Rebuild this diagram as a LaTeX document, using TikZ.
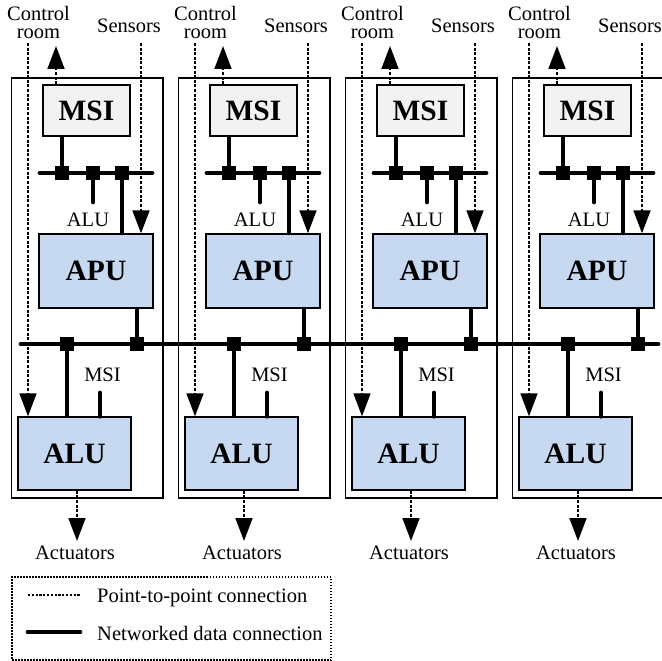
\documentclass[tikz,border=0pt]{standalone}
\usepackage{fontspec}
\setmainfont{Liberation Serif}
\usetikzlibrary{arrows.meta}
\definecolor{boxblue}{HTML}{C6D9F1}
\definecolor{boxgray}{HTML}{F2F2F2}
\tikzset{
  lbl/.style={font=\fontsize{20.5}{18.5}\selectfont, inner sep=0pt, align=center},
  big/.style={font=\fontsize{29.5}{30}\selectfont\bfseries},
  unit/.style={draw, line width=1.4pt, inner sep=0pt, big},
  ptp/.style={line width=1.7pt, dash pattern=on 3pt off 1.6pt},
  ptparrow/.style={ptp, -{Triangle[length=23pt,width=17pt]}},
  net/.style={line width=4.8pt},
  netcap/.style={net, line cap=round},
  jn/.style={fill=black, inner sep=0pt, minimum size=14pt},
  outerbox/.style={draw, line width=1.3pt, inner sep=0pt, minimum width=151.5pt, minimum height=420pt},
}
\begin{document}
\begin{tikzpicture}[x=1pt,y=-1pt]
\useasboundingbox (0,0) rectangle (662,661);
\foreach \i in {1,...,4}{
  \pgfmathsetmacro{\o}{(\i-1)*167}
  \begin{scope}[xshift=\o pt]
    \node[outerbox] (col\i) at (87.25,288) {};
    \node[unit, fill=boxgray, minimum width=87pt, minimum height=51pt] (msi\i) at (86.5,110.5) {MSI};
    \node[unit, fill=boxblue, minimum width=114pt, minimum height=74pt] (apu\i) at (96,271) {APU};
    \node[unit, fill=boxblue, minimum width=113pt, minimum height=73pt] (alu\i) at (74.5,453.5) {ALU};
    \node[lbl] (cr\i) at (38.5,22.3) {Control\\room};
    \node[lbl, anchor=base] (sens\i) at (129,33) {Sensors};
    \node[lbl, anchor=base] (alul\i) at (88,226) {ALU};
    \node[lbl, anchor=base] (msil\i) at (102.5,381.5) {MSI};
    \node[lbl, anchor=base] (act\i) at (75,559) {Actuators};
    \coordinate (ubl\i) at (40,173);
    \coordinate (ubr\i) at (152,173);
    \coordinate (alustub\i) at (93,202);
    \coordinate (msistub\i) at (100,393);
    \coordinate (crtop\i) at (28,43);
    \coordinate (sstop\i) at (141,43);
    \coordinate (crtip\i) at (56,46);
    \coordinate (acttip\i) at (77,541);
    \draw[netcap] (ubl\i) -- (ubr\i);
    \node[jn] (ja\i) at (62,173) {};
    \node[jn] (jb\i) at (93,173) {};
    \node[jn] (jc\i) at (122,173) {};
    \node[jn] (jd\i) at (67,344) {};
    \node[jn] (je\i) at (137,344) {};
    \draw[net] (ja\i |- msi\i.south) -- (ja\i.center);
    \draw[netcap] (jb\i.center) -- (alustub\i);
    \draw[net] (jc\i.center) -- (jc\i |- apu\i.north);
    \draw[net] (je\i |- apu\i.south) -- (je\i.center);
    \draw[net] (jd\i.center) -- (jd\i |- alu\i.north);
    \draw[netcap] (msistub\i) -- (msistub\i |- alu\i.north);
    \draw[ptparrow] (crtop\i) -- (crtop\i |- alu\i.north);
    \draw[ptparrow] (sstop\i) -- (sstop\i |- apu\i.north);
    \draw[ptparrow] (crtip\i |- msi\i.north) -- (crtip\i);
    \draw[ptparrow] (acttip\i |- alu\i.south) -- (acttip\i);
  \end{scope}
}
\coordinate (lbL) at (21,344);
\coordinate (lbR) at (658,344);
\draw[netcap] (lbL) -- (lbR);
% legend
\node[draw, dash pattern=on 1.5pt off 1.5pt, line width=1.2pt, minimum width=319pt, minimum height=83pt, inner sep=0pt] (legend) at (171.5,618.5) {};
\coordinate (l1a) at (28,595);
\coordinate (l1b) at (80,595);
\draw[ptp, line width=1.3pt, dash pattern=on 2.2pt off 1.6pt] (l1a) -- (l1b);
\node[lbl, anchor=base west] (l1t) at (97,602) {Point-to-point connection};
\coordinate (l2a) at (28,632);
\coordinate (l2b) at (80,632);
\draw[netcap] (l2a) -- (l2b);
\node[lbl, anchor=base west] (l2t) at (97,640) {Networked data connection};
\end{tikzpicture}
\end{document}
